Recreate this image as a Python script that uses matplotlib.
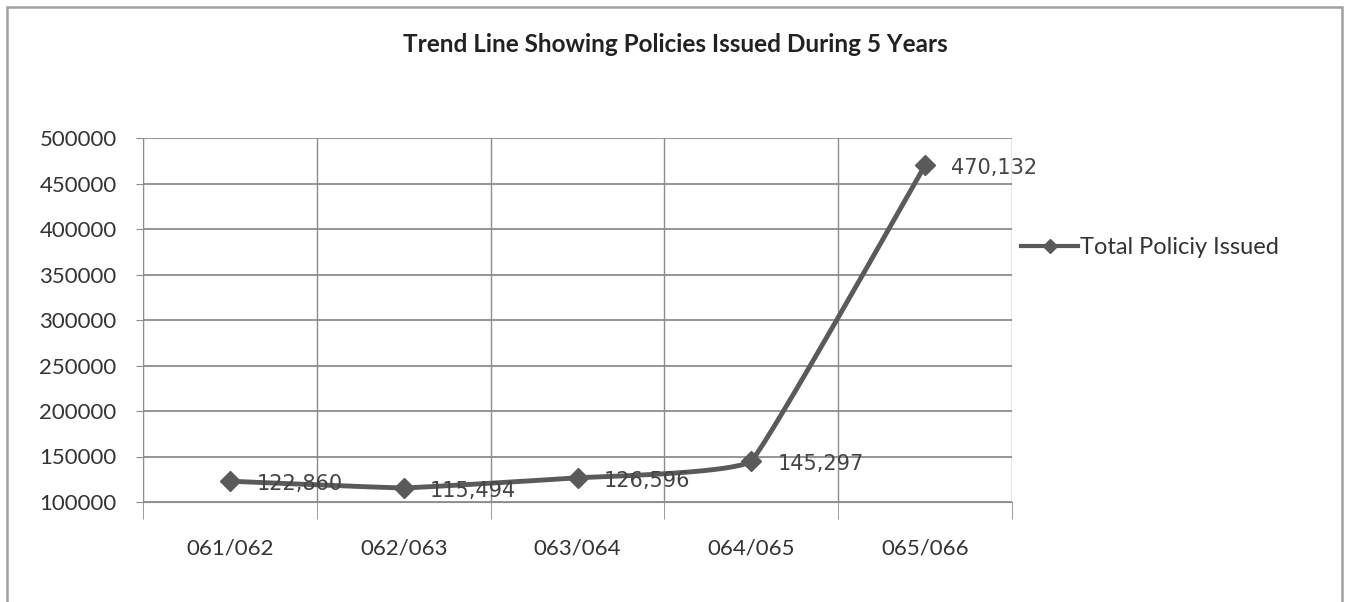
import numpy as np
import matplotlib.pyplot as plt
from matplotlib.patches import Rectangle

# Dane: liczba wystawionych polis w kolejnych latach
years = ['061/062', '062/063', '063/064', '064/065', '065/066']
policies = [122860, 115494, 126596, 145297, 470132]

line_col = '#5a5a5a'
grid_col = '#8c8c8c'
font = 'Lato'


def smooth(x, y, n=40, t=0.25):
    # wygładzenie linii (Catmull-Rom), podobnie jak w Excelu
    x = np.asarray(x, float)
    y = np.asarray(y, float)
    px = np.concatenate([[x[0]], x, [x[-1]]])
    py = np.concatenate([[y[0]], y, [y[-1]]])
    xs, ys = [], []
    for i in range(1, len(px) - 2):
        p0, p1, p2, p3 = px[i-1], px[i], px[i+1], px[i+2]
        q0, q1, q2, q3 = py[i-1], py[i], py[i+1], py[i+2]
        s = np.linspace(0, 1, n)
        m1x, m2x = t * (p2 - p0) / 2, t * (p3 - p1) / 2
        m1y, m2y = t * (q2 - q0) / 2, t * (q3 - q1) / 2
        h00 = 2*s**3 - 3*s**2 + 1
        h10 = s**3 - 2*s**2 + s
        h01 = -2*s**3 + 3*s**2
        h11 = s**3 - s**2
        xs.append(h00*p1 + h10*m1x + h01*p2 + h11*m2x)
        ys.append(h00*q1 + h10*m1y + h01*q2 + h11*m2y)
    return np.concatenate(xs), np.concatenate(ys)


fig = plt.figure(figsize=(13.5, 6.02), dpi=100)
fig.patches.append(Rectangle((0.005, -0.02), 0.989, 1.008, transform=fig.transFigure,
                             fill=False, edgecolor='#a0a0a0', linewidth=1.8))

ax = fig.add_axes([143/1350, 1 - 502/602, (1012-143)/1350, (502-138)/602])

x = np.arange(len(years))
sx, sy = smooth(x, policies)
ax.plot(sx, sy, color=line_col, linewidth=3.5, zorder=3)
ax.plot(x, policies, linestyle='none', marker='D', markersize=10,
        color=line_col, zorder=4)
ax.plot([], [], color=line_col, linewidth=3, marker='D', markersize=7,
        label='Total Policiy Issued')

for xi, v in zip(x, policies):
    ax.annotate(f'{v:,}', (xi, v), xytext=(19, -2), textcoords='offset points',
                ha='left', va='center', fontsize=15, color='#444444',
                family='DejaVu Sans', zorder=5)

ax.set_xlim(-0.5, len(years) - 0.5)
ax.set_ylim(100000, 500000)
ax.set_yticks(np.arange(100000, 500001, 50000))
ax.set_xticks(x)
ax.set_xticklabels(years)
ax.set_xticks(np.arange(-0.5, len(years)), minor=True)

ax.grid(True, axis='y', color=grid_col, linewidth=1.3)
ax.grid(True, axis='x', which='minor', color=grid_col, linewidth=1)
ax.tick_params(axis='x', which='major', length=0, pad=26, labelsize=16,
               labelcolor='#333333')
ax.tick_params(axis='x', which='minor', length=12, color=grid_col)
ax.tick_params(axis='y', length=5, color=grid_col, labelsize=16,
               labelcolor='#333333', pad=14)
for lab in ax.get_xticklabels() + ax.get_yticklabels():
    lab.set_family(font)
for sp in ['top', 'right']:
    ax.spines[sp].set_visible(False)
for sp in ['left', 'bottom']:
    ax.spines[sp].set_color(grid_col)

fig.text(0.5, 1 - 44/602, 'Trend Line Showing Policies Issued During 5 Years',
         ha='center', va='center', fontsize=17.5, fontweight='bold',
         family=font, color='#222222')

fig.legend(loc='center left', bbox_to_anchor=(1000/1350, 1 - 248/602),
           frameon=False, handlelength=2.4, handletextpad=0.1,
           prop={'family': font, 'size': 17}, labelcolor='#333333')

fig.savefig('out.png', dpi=100, facecolor='white')
